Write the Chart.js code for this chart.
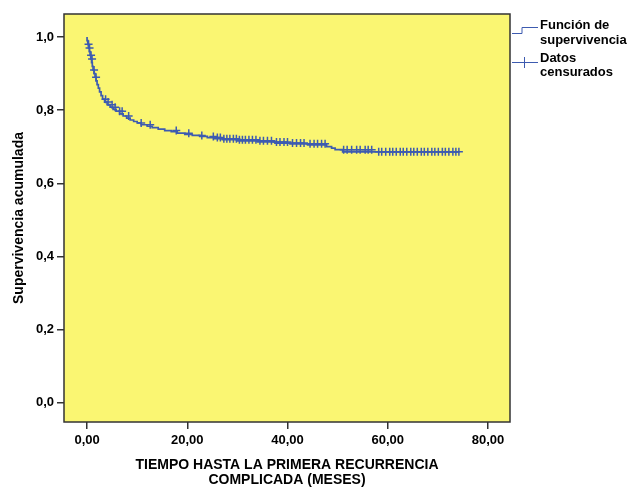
<!DOCTYPE html>
<html>
<head>
<meta charset="utf-8">
<script src="https://cdn.jsdelivr.net/npm/chart.js@4/dist/chart.umd.min.js"></script>
<style>
  html, body { margin: 0; padding: 0; background: #fff; }
  #wrap { width: 637px; height: 488px; position: relative; }
</style>
</head>
<body>
<div id="wrap"><canvas id="kmChart"></canvas></div>
<script>
// Kaplan-Meier: tiempo hasta la primera recurrencia complicada

// survival function (meses, supervivencia acumulada)
const kmTimes = [0, 0.15, 0.3, 0.45, 0.6, 0.75, 0.9, 1.05, 1.2, 1.4, 1.6, 1.8, 2.0, 2.25, 2.5, 2.8, 3.1, 3.5,
                 4.0, 4.6, 5.2, 5.8, 6.5, 7.2, 7.9, 8.6, 9.3, 10.0, 10.8, 12.0, 13.0, 14.2, 15.5, 16.8, 18.0,
                 19.5, 21.0, 22.5, 24.0, 25.5, 27.0, 30.0, 34.0, 37.5, 40.5, 44.0, 47.8, 48.8, 49.5, 51.0,
                 57.2, 74.2];
const kmSurv = [1.0, 0.99, 0.98, 0.97, 0.96, 0.95, 0.94, 0.93, 0.92, 0.91, 0.90, 0.89, 0.88, 0.87, 0.86, 0.85,
                0.84, 0.83, 0.822, 0.815, 0.808, 0.802, 0.797, 0.790, 0.784, 0.778, 0.773, 0.769, 0.765, 0.760,
                0.756, 0.752, 0.748, 0.744, 0.741, 0.737, 0.734, 0.731, 0.728, 0.725, 0.722, 0.719, 0.716,
                0.713, 0.710, 0.708, 0.705, 0.700, 0.696, 0.692, 0.686, 0.686];

// censored observations
const censTimes = [0.3, 0.5, 0.8, 1.0, 1.4, 1.8, 3.7, 4.2, 5.0, 5.6, 6.5, 7.0, 8.3, 10.8, 12.6, 17.8, 20.3,
                   22.9, 25.2, 26.0, 26.6, 27.3, 27.9, 28.5, 29.2, 29.8, 30.4, 31.0, 31.6, 32.3, 33.0, 33.7,
                   34.5, 35.2, 36.0, 36.8, 37.8, 38.5, 39.3, 40.0, 41.0, 41.8, 42.6, 43.3, 44.5, 45.3, 46.0,
                   46.8, 47.5, 51.2, 51.9, 52.8, 53.8, 54.5, 55.5, 56.1, 56.8, 58.2, 58.8, 59.6, 60.4, 61.0,
                   61.7, 62.5, 63.1, 63.8, 64.6, 65.2, 65.9, 66.7, 67.3, 68.0, 68.8, 69.4, 70.1, 70.9, 71.5,
                   72.2, 73.0, 73.6, 74.2];
const censSurv = [0.98, 0.97, 0.95, 0.94, 0.91, 0.89, 0.83, 0.822, 0.815, 0.808, 0.797, 0.797, 0.784,
                  0.765, 0.760, 0.744, 0.737, 0.731, 0.728, 0.725, 0.725, 0.722, 0.722, 0.722, 0.722, 0.722,
                  0.719, 0.719, 0.719, 0.719, 0.719, 0.719, 0.716, 0.716, 0.716, 0.716, 0.713, 0.713, 0.713,
                  0.713, 0.710, 0.710, 0.710, 0.710, 0.708, 0.708, 0.708, 0.708, 0.708, 0.692, 0.692, 0.692,
                  0.692, 0.692, 0.692, 0.692, 0.692, 0.686, 0.686, 0.686, 0.686, 0.686, 0.686, 0.686, 0.686,
                  0.686, 0.686, 0.686, 0.686, 0.686, 0.686, 0.686, 0.686, 0.686, 0.686, 0.686, 0.686, 0.686,
                  0.686, 0.686, 0.686];

const xTicks = [0, 20, 40, 60, 80];
const yTicks = [0, 0.2, 0.4, 0.6, 0.8, 1.0];
const xTitle = ['TIEMPO HASTA LA PRIMERA RECURRENCIA', 'COMPLICADA (MESES)'];
const yTitle = 'Supervivencia acumulada';
const legendItems = [['Función de', 'supervivencia'], ['Datos', 'censurados']];

const lineColor = '#3d5bb0';
const plotBg = '#faf672';
const fontFamily = '"Liberation Sans", Arial, sans-serif';

const plotFrame = {
    id: 'plotFrame',
    beforeDraw(chart) {
        const a = chart.chartArea, ctx = chart.ctx;
        ctx.save();
        ctx.fillStyle = plotBg;
        ctx.fillRect(a.left, a.top, a.right - a.left, a.bottom - a.top);
        ctx.restore();
    },
    afterDraw(chart) {
        const a = chart.chartArea, ctx = chart.ctx;
        ctx.save();
        ctx.strokeStyle = '#333';
        ctx.lineWidth = 1.5;
        ctx.strokeRect(a.left, a.top, a.right - a.left, a.bottom - a.top);

        // legend outside the plot, SPSS style
        const x0 = a.right + 2;
        ctx.strokeStyle = lineColor;
        ctx.lineWidth = 1;
        ctx.beginPath();
        ctx.moveTo(x0, 33.5); ctx.lineTo(x0 + 10, 33.5);
        ctx.lineTo(x0 + 10, 27.5); ctx.lineTo(x0 + 26, 27.5);
        ctx.stroke();
        ctx.beginPath();
        ctx.moveTo(x0, 62.5); ctx.lineTo(x0 + 26, 62.5);
        ctx.moveTo(x0 + 12.5, 57); ctx.lineTo(x0 + 12.5, 68);
        ctx.stroke();

        ctx.fillStyle = '#000';
        ctx.font = 'bold 13px ' + fontFamily;
        ctx.textBaseline = 'middle';
        ctx.textAlign = 'left';
        const ys = [[25, 40], [58, 72]];
        legendItems.forEach((lines, i) => {
            lines.forEach((t, j) => ctx.fillText(t, x0 + 28, ys[i][j]));
        });
        ctx.restore();
    }
};

const ctx = document.getElementById('kmChart').getContext('2d');
new Chart(ctx, {
    type: 'line',
    data: {
        datasets: [{
            label: 'Función de supervivencia',
            data: kmTimes.map((t, i) => ({ x: t, y: kmSurv[i] })),
            borderColor: lineColor,
            borderWidth: 1.7,
            stepped: 'after',
            pointRadius: 0,
            fill: false
        }, {
            label: 'Datos censurados',
            data: censTimes.map((t, i) => ({ x: t, y: censSurv[i] })),
            showLine: false,
            pointStyle: 'cross',
            pointRadius: 4,
            borderColor: lineColor,
            borderWidth: 1.5
        }]
    },
    options: {
        responsive: true,
        maintainAspectRatio: false,
        animation: false,
        layout: { padding: { top: 14, right: 127, left: 0, bottom: 0 } },
        plugins: {
            legend: { display: false },
            tooltip: { enabled: false }
        },
        scales: {
            x: {
                type: 'linear',
                min: -4.6,
                max: 84.4,
                afterBuildTicks: s => { s.ticks = xTicks.map(v => ({ value: v })); },
                afterFit: s => { s.height = 66; },
                grid: { drawOnChartArea: false, drawTicks: true, tickLength: 7, color: '#333', lineWidth: 1.5 },
                border: { display: false },
                ticks: {
                    color: '#000',
                    padding: 4,
                    maxRotation: 0,
                    font: { family: fontFamily, size: 13, weight: 'bold' },
                    callback: v => v.toFixed(2).replace('.', ',')
                },
                title: {
                    display: true,
                    text: xTitle,
                    color: '#000',
                    padding: { top: 0, bottom: 0 },
                    font: { family: fontFamily, size: 14, weight: 'bold', lineHeight: 1.1 }
                }
            },
            y: {
                min: -0.053,
                max: 1.063,
                afterBuildTicks: s => { s.ticks = yTicks.map(v => ({ value: v })); },
                afterFit: s => { s.width = 64; },
                grid: { drawOnChartArea: false, drawTicks: true, tickLength: 7, color: '#333', lineWidth: 1.5 },
                border: { display: false },
                ticks: {
                    color: '#000',
                    padding: 3,
                    font: { family: fontFamily, size: 13, weight: 'bold' },
                    callback: v => v.toFixed(1).replace('.', ',')
                },
                title: {
                    display: true,
                    text: yTitle,
                    color: '#000',
                    padding: { top: 11, bottom: 0 },
                    font: { family: fontFamily, size: 14, weight: 'bold', lineHeight: 1.1 }
                }
            }
        }
    },
    plugins: [plotFrame]
});
</script>
</body>
</html>
